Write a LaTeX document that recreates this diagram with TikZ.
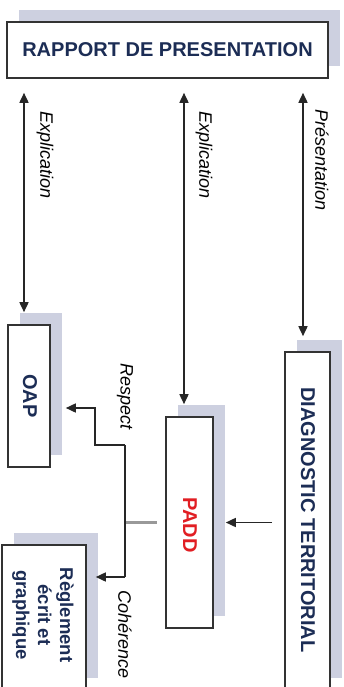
\documentclass[tikz,border=0pt]{standalone}
\usepackage{fontspec}
\setmainfont{Liberation Sans}
\usetikzlibrary{arrows.meta, shadows}
\definecolor{shadowgray}{RGB}{205,208,224}
\definecolor{navy}{RGB}{28,45,85}
\definecolor{paddred}{RGB}{225,30,35}

\begin{document}
\begin{tikzpicture}[x=1pt,y=-1pt,>={Triangle[length=10pt,width=9pt]},line width=1.6pt,draw=black!85]
    \tikzstyle{box}=[draw=black!80, fill=white, line width=1.6pt, inner sep=0pt, drop shadow={shadow xshift=12pt, shadow yshift=12pt, fill=shadowgray, opacity=1}]
    \tikzstyle{title}=[font=\fontsize{20}{24}\selectfont\bfseries, text=navy]
    \tikzstyle{vtitle}=[title, rotate=-90, inner sep=0pt]
    \tikzstyle{annot}=[font=\fontsize{18}{22}\selectfont\itshape, rotate=-90, inner sep=0pt]
    \tikzstyle{stub}=[draw=black!40, line width=3.5pt]

    \useasboundingbox (0,0) rectangle (344,687);
    \clip (0,0) rectangle (344,687);

    % boxes
    \node[box, title, minimum width=321pt, minimum height=56pt] (rapport) at (167.5,50) {RAPPORT DE PRESENTATION};
    \node[box, minimum width=42pt, minimum height=142pt] (oap) at (29,396) {};
    \node[box, minimum width=47pt, minimum height=211pt] (padd) at (189.5,522.5) {};
    \node[box, minimum width=45pt, minimum height=338pt] (diag) at (307.5,521) {};
    \node[box, minimum width=84pt, minimum height=145pt] (regl) at (44,617.5) {};

    \node[vtitle] (oap-t) at (30,396) {OAP};
    \node[vtitle, text=paddred] (padd-t) at (190,525) {PADD};
    \node[vtitle] (diag-t) at (308,520) {DIAGNOSTIC TERRITORIAL};
    \node[vtitle, align=center, font=\fontsize{18.5}{22}\selectfont\bfseries] (regl-t) at (43,615) {Règlement\\écrit et\\graphique};

    % links to the report
    \draw[<->, shorten <=12pt, shorten >=14pt] ([xshift=-5pt]oap.north) -- ([xshift=-5pt]oap.north |- rapport.south);
    \draw[<->, shorten <=12pt, shorten >=14pt] ([xshift=-5.5pt]padd.north) -- ([xshift=-5.5pt]padd.north |- rapport.south);
    \draw[<->, shorten <=15pt, shorten >=14pt] ([xshift=-4.5pt]diag.north) -- ([xshift=-4.5pt]diag.north |- rapport.south);
    \node[annot] (expl-oap) at (45,155) {Explication};
    \node[annot] (expl-padd) at (204,155) {Explication};
    \node[annot] (pres) at (322,160) {Présentation};

    \draw[->, shorten <=12pt, shorten >=12pt] (padd.east -| diag.west) -- (padd.east);

    % PADD to OAP and reglement
    \coordinate (hub) at (125,522.5);
    \coordinate (hub-top) at (125,445);
    \coordinate (hub-bot) at (125,577);
    \draw[stub] (hub) -- ([xshift=-8pt]padd.west);
    \draw (hub-top) -- (hub-bot);
    \draw[->, shorten >=15pt] (hub-top) -- ++(-30,0) |- ([yshift=-12pt]oap.east);
    \draw[->, shorten >=9pt] (hub-bot) -- (hub-bot -| regl.east);
    \node[annot, anchor=east] (respect) at ([yshift=15pt]hub-top) {Respect};
    \node[annot, anchor=west] (coherence) at ([yshift=-13pt]hub-bot) {Cohérence};
\end{tikzpicture}
\end{document}
